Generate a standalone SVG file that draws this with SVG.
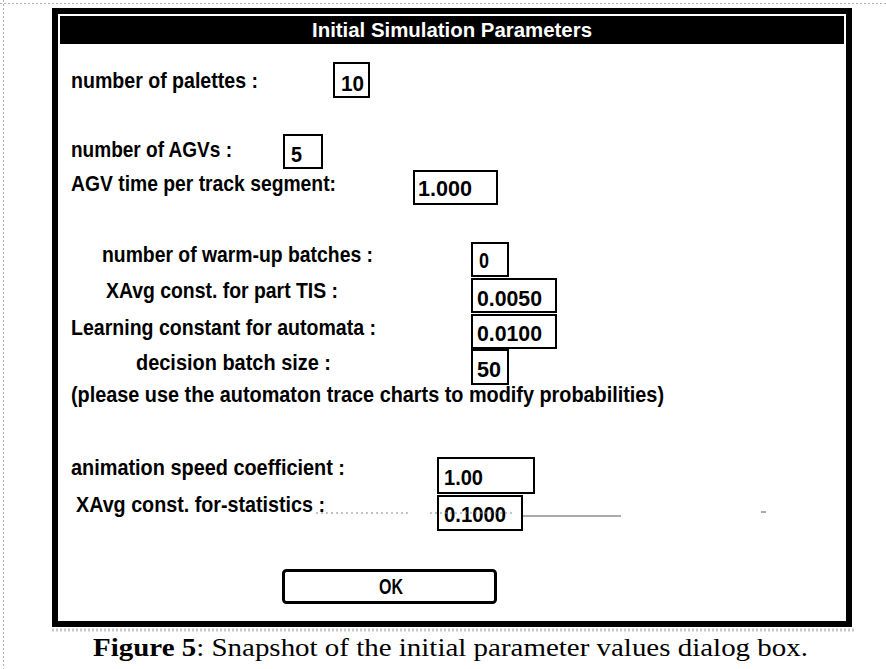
<svg xmlns="http://www.w3.org/2000/svg" width="886" height="669" viewBox="0 0 886 669">
<style>
.lbl{font-family:"Liberation Sans Narrow","Liberation Sans",Arial,sans-serif;font-weight:bold;font-size:22.5px;fill:#000}
.val{font-family:"Liberation Sans Narrow","Liberation Sans",Arial,sans-serif;font-weight:bold;font-size:22.5px;fill:#000}
.box{fill:#fff;stroke:#000;stroke-width:2}
.cap{font-family:"Liberation Serif","DejaVu Serif",serif;font-size:26px;fill:#000}
.scan{stroke:#b0b0b0;stroke-width:1;stroke-dasharray:2 2;fill:none}
</style>
<rect x="0" y="0" width="886" height="669" fill="#fff"/>
<g id="scan-edges">
<line class="scan" x1="0" y1="3.5" x2="886" y2="3.5"/>
<line class="scan" x1="3.5" y1="0" x2="3.5" y2="669"/>
<line class="scan" x1="52" y1="630" x2="854" y2="630" style="stroke-width:3;stroke:#c8c8c8"/>
</g>
<g id="dialog">
<rect x="55" y="11" width="794" height="613" fill="#fff" stroke="#000" stroke-width="6"/>
<rect x="60" y="16" width="784" height="28" fill="#000"/>
<text x="452" y="37" text-anchor="middle" font-family="'Liberation Sans Narrow','Liberation Sans',Arial,sans-serif" font-weight="bold" font-size="20" fill="#fff" textLength="280" lengthAdjust="spacingAndGlyphs">Initial Simulation  Parameters</text>
</g>
<g id="palettes">
<text class="lbl" x="71" y="88" textLength="187" lengthAdjust="spacingAndGlyphs">number of palettes :</text>
<rect class="box" x="334" y="63" width="35" height="34"/>
<text class="val" x="341" y="91" textLength="23" lengthAdjust="spacingAndGlyphs">10</text>
</g>
<g id="agvs">
<text class="lbl" x="71" y="157" textLength="161" lengthAdjust="spacingAndGlyphs">number of AGVs :</text>
<rect class="box" x="284" y="135" width="38" height="33"/>
<text class="val" x="291" y="162" textLength="11" lengthAdjust="spacingAndGlyphs">5</text>
</g>
<g id="agv-time">
<text class="lbl" x="71" y="191" textLength="265" lengthAdjust="spacingAndGlyphs">AGV time per track segment:</text>
<rect class="box" x="414" y="171" width="83" height="33"/>
<text class="val" x="418" y="196" textLength="54" lengthAdjust="spacingAndGlyphs">1.000</text>
</g>
<g id="warmup">
<text class="lbl" x="102" y="262" textLength="271" lengthAdjust="spacingAndGlyphs">number of warm-up batches :</text>
<rect class="box" x="472" y="243" width="36" height="33"/>
<text class="val" x="479" y="268" textLength="10" lengthAdjust="spacingAndGlyphs">0</text>
</g>
<g id="xavg-tis">
<text class="lbl" x="106" y="298" textLength="232" lengthAdjust="spacingAndGlyphs">XAvg const. for part TIS :</text>
<rect class="box" x="472" y="279" width="84" height="33"/>
<text class="val" x="477" y="306" textLength="65" lengthAdjust="spacingAndGlyphs">0.0050</text>
</g>
<g id="learning">
<text class="lbl" x="71" y="335" textLength="305" lengthAdjust="spacingAndGlyphs">Learning constant for automata :</text>
<rect class="box" x="472" y="315" width="84" height="33"/>
<text class="val" x="477" y="341" textLength="65" lengthAdjust="spacingAndGlyphs">0.0100</text>
</g>
<g id="batch">
<text class="lbl" x="136" y="370" textLength="195" lengthAdjust="spacingAndGlyphs">decision batch size :</text>
<rect class="box" x="472" y="350" width="36" height="34"/>
<text class="val" x="477" y="377" textLength="24" lengthAdjust="spacingAndGlyphs">50</text>
</g>
<g id="note">
<text class="lbl" x="71" y="402" textLength="593" lengthAdjust="spacingAndGlyphs">(please use the automaton trace charts to modify probabilities)</text>
</g>
<g id="anim">
<text class="lbl" x="71" y="475" textLength="274" lengthAdjust="spacingAndGlyphs">animation speed coefficient :</text>
<rect class="box" x="438" y="458" width="96" height="35"/>
<text class="val" x="444" y="485" textLength="39" lengthAdjust="spacingAndGlyphs">1.00</text>
</g>
<g id="xavg-stats">
<text class="lbl" x="76" y="512" textLength="249" lengthAdjust="spacingAndGlyphs">XAvg const. for-statistics :</text>
<rect class="box" x="438" y="496" width="84" height="34"/>
<text class="val" x="444" y="522" textLength="62" lengthAdjust="spacingAndGlyphs">0.1000</text>
</g>
<g id="connectors">
<line x1="316" y1="513" x2="409" y2="513" stroke="#888" stroke-width="1" stroke-dasharray="2 3"/>
<line x1="430" y1="513" x2="514" y2="513" stroke="#888" stroke-width="1" stroke-dasharray="2 3"/>
<line x1="523" y1="516" x2="621" y2="516" stroke="#555" stroke-width="1"/>
<line x1="761" y1="512" x2="766" y2="512" stroke="#555" stroke-width="1"/>
</g>
<g id="ok-button">
<rect x="283.5" y="570.5" width="212" height="32" rx="3" fill="#fff" stroke="#000" stroke-width="3"/>
<text class="val" x="391" y="594" text-anchor="middle" textLength="24" lengthAdjust="spacingAndGlyphs">OK</text>
</g>
<g id="caption">
<text class="cap" x="93" y="656" textLength="715" lengthAdjust="spacingAndGlyphs"><tspan font-weight="bold">Figure 5</tspan>: Snapshot of the initial parameter values dialog box.</text>
</g>
</svg>
